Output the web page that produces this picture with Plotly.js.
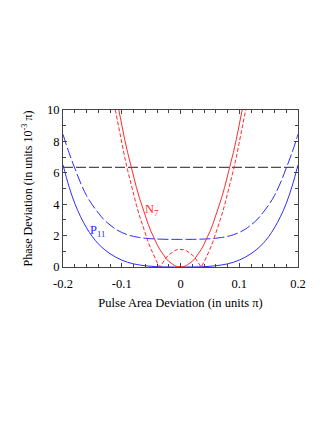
<!DOCTYPE html>
<html>
<head>
<meta charset="utf-8">
<script src="https://cdn.plot.ly/plotly-3.0.1.min.js"></script>
<style>
  html, body { margin: 0; padding: 0; background: #fff; }
  #chart { width: 332px; height: 430px; }
</style>
</head>
<body>
<div id="chart"></div>
<script>
// pulse area deviation (units of pi) for the P11 curves
const xP = [-0.2, -0.19, -0.18, -0.17, -0.16, -0.15, -0.14, -0.13, -0.12, -0.11, -0.1,
  -0.09, -0.08, -0.07, -0.06, -0.05, -0.04, -0.03, -0.02, -0.01, 0,
  0.01, 0.02, 0.03, 0.04, 0.05, 0.06, 0.07, 0.08, 0.09, 0.1,
  0.11, 0.12, 0.13, 0.14, 0.15, 0.16, 0.17, 0.18, 0.19, 0.2];
const p11Solid = [6.5, 5.15, 4.05, 3.2, 2.5, 1.93, 1.48, 1.13, 0.85, 0.62, 0.44,
  0.3, 0.2, 0.13, 0.08, 0.045, 0.02, 0.008, 0.002, 0, 0,
  0, 0.002, 0.008, 0.02, 0.045, 0.08, 0.13, 0.2, 0.3, 0.44,
  0.62, 0.85, 1.13, 1.48, 1.93, 2.5, 3.2, 4.05, 5.15, 6.5];
const p11Dashed = [8.45, 7.3, 6.3, 5.35, 4.55, 3.95, 3.45, 3.0, 2.68, 2.4, 2.2,
  2.05, 1.95, 1.88, 1.83, 1.8, 1.78, 1.77, 1.76, 1.76, 1.76,
  1.76, 1.76, 1.77, 1.78, 1.8, 1.83, 1.88, 1.95, 2.05, 2.2,
  2.4, 2.68, 3.0, 3.45, 3.95, 4.55, 5.35, 6.3, 7.3, 8.45];

// N7 curves
const xN = [-0.115, -0.11, -0.105, -0.1, -0.095, -0.09, -0.085, -0.08, -0.075, -0.07, -0.065, -0.06,
  -0.055, -0.05, -0.045, -0.04, -0.035, -0.03, -0.025, -0.02, -0.015, -0.01, -0.005, 0,
  0.005, 0.01, 0.015, 0.02, 0.025, 0.03, 0.035, 0.04, 0.045, 0.05, 0.055,
  0.06, 0.065, 0.07, 0.075, 0.08, 0.085, 0.09, 0.095, 0.1, 0.105, 0.11, 0.115];
const n7Solid = [11.9, 10.89, 9.92, 9.0, 8.12, 7.29, 6.5, 5.76, 5.06, 4.41, 3.8, 3.24,
  2.72, 2.25, 1.82, 1.44, 1.1, 0.81, 0.56, 0.36, 0.2, 0.09, 0.02, 0,
  0.02, 0.09, 0.2, 0.36, 0.56, 0.81, 1.1, 1.44, 1.82, 2.25, 2.72,
  3.24, 3.8, 4.41, 5.06, 5.76, 6.5, 7.29, 8.12, 9.0, 9.92, 10.89, 11.9];
const n7Dashed = [10.77, 9.76, 8.79, 7.87, 6.99, 6.16, 5.37, 4.63, 3.93, 3.28, 2.67, 2.11,
  1.59, 1.12, 0.69, 0.31, 0, 0.32, 0.57, 0.77, 0.93, 1.04, 1.11, 1.13,
  1.11, 1.04, 0.93, 0.77, 0.57, 0.32, 0, 0.31, 0.69, 1.12, 1.59,
  2.11, 2.67, 3.28, 3.93, 4.63, 5.37, 6.16, 6.99, 7.87, 8.79, 9.76, 10.77];

// horizontal reference level
const xLevel = [-0.2, 0.2];
const yLevel = [6.35, 6.35];

const xTicks = [-0.2, -0.1, 0, 0.1, 0.2];
const xTickText = ["-0.2", "-0.1", "0", "0.1", "0.2"];
const yTicks = [0, 2, 4, 6, 8, 10];

const blue = "#2b2bff";
const red = "#ff2b2b";
const frame = "#444";
const serif = "Liberation Serif";

const traces = [
  { x: xLevel, y: yLevel, mode: "lines", line: { color: "#222", width: 1, dash: "10px,3px" } },
  { x: xP, y: p11Dashed, mode: "lines", line: { color: blue, width: 1, dash: "11px,3px", shape: "spline" } },
  { x: xP, y: p11Solid, mode: "lines", line: { color: blue, width: 1, shape: "spline" } },
  { x: xN, y: n7Dashed, mode: "lines", line: { color: red, width: 1, dash: "4px,2px" } },
  { x: xN, y: n7Solid, mode: "lines", line: { color: red, width: 1 } },
];

const layout = {
  width: 332,
  height: 430,
  margin: { l: 63, r: 34, t: 110, b: 163 },
  paper_bgcolor: "#fff",
  plot_bgcolor: "#fff",
  showlegend: false,
  font: { family: serif, size: 12, color: "#000" },
  xaxis: {
    range: [-0.2, 0.2],
    tickmode: "array",
    tickvals: xTicks,
    ticktext: xTickText,
    ticks: "inside",
    ticklen: 4,
    tickcolor: frame,
    ticklabelstandoff: 5,
    tickfont: { size: 12.5 },
    showline: true,
    linecolor: frame,
    linewidth: 1,
    mirror: "ticks",
    showgrid: false,
    zeroline: false,
    minor: { tickmode: "linear", tick0: 0, dtick: 0.02, ticks: "inside", ticklen: 3, tickcolor: frame },
    title: { text: "Pulse Area Deviation (in units π)", font: { size: 12.5 }, standoff: 8 },
  },
  yaxis: {
    range: [0, 10],
    tickmode: "array",
    tickvals: yTicks,
    ticks: "inside",
    ticklen: 4,
    tickcolor: frame,
    tickfont: { size: 12.5 },
    showline: true,
    linecolor: frame,
    linewidth: 1,
    mirror: "ticks",
    showgrid: false,
    zeroline: false,
    minor: { tickmode: "linear", tick0: 0, dtick: 1, ticks: "inside", ticklen: 3, tickcolor: frame },
    title: { text: "Phase Deviation (in units 10<sup>-3</sup> π)", font: { size: 12 }, standoff: 11 },
  },
  annotations: [
    { x: -0.064, y: 3.6, xref: "x", yref: "y", text: "N<sub>7</sub>", showarrow: false,
      xanchor: "left", yanchor: "middle", font: { color: red, size: 12.5, family: serif } },
    { x: -0.157, y: 2.3, xref: "x", yref: "y", text: "P<sub>11</sub>", showarrow: false,
      xanchor: "left", yanchor: "middle", font: { color: blue, size: 12.5, family: serif } },
  ],
};

Plotly.newPlot("chart", traces, layout, { displayModeBar: false, staticPlot: true });
</script>
</body>
</html>
